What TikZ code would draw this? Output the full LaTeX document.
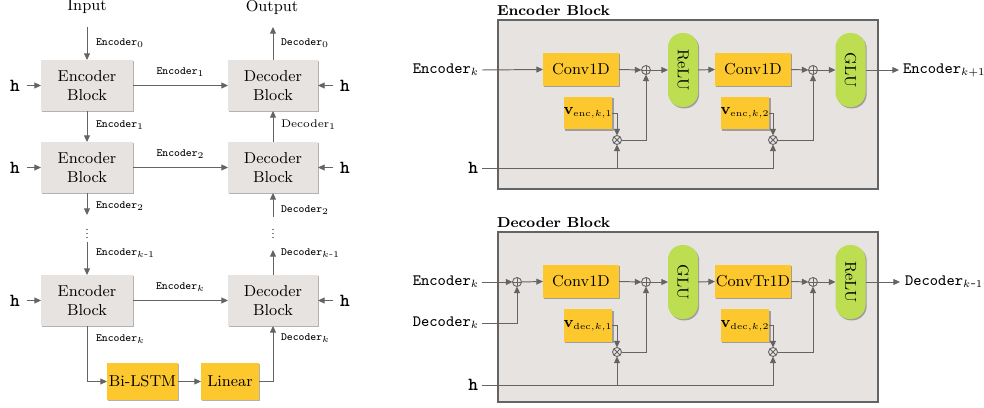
\documentclass[tikz,border=0pt]{standalone}
\usepackage{amsmath}
\usetikzlibrary{arrows.meta,shadows,calc}
\definecolor{blockgray}{RGB}{230,227,224}
\definecolor{boxgray}{RGB}{230,227,224}
\definecolor{ylw}{RGB}{253,200,45}
\definecolor{grn}{RGB}{190,222,82}
\definecolor{lnc}{RGB}{100,100,100}
\tikzset{
  x=0.02cm, y=-0.02cm,
  every node/.style={inner sep=0pt, outer sep=0pt},
  main/.style={font=\fontsize{9}{11}\selectfont},
  lbl/.style={font=\fontsize{6.3}{7}\selectfont\ttfamily, anchor=west},
  iolbl/.style={font=\fontsize{9}{11}\selectfont\ttfamily},
  shd/.style={drop shadow={shadow xshift=0.7pt, shadow yshift=-0.8pt, opacity=0.3, fill=black}},
  gblock/.style={main, fill=blockgray, align=center, minimum width=1.84cm, minimum height=1.02cm, shd},
  ybox/.style={main, fill=ylw, shd},
  vbox/.style={font=\fontsize{9.5}{11}\selectfont, fill=ylw, shd, minimum width=0.76cm, minimum height=0.65cm},
  gpill/.style={main, fill=grn, minimum width=0.6cm, minimum height=1.48cm, rounded corners=0.29cm, shd},
  arr/.style={draw=lnc, line width=0.55pt, -{Triangle[length=3.8pt,width=3.4pt]}},
  ln/.style={draw=lnc, line width=0.55pt},
  opl/.style={circle, draw=lnc, line width=0.5pt, minimum size=0.18cm,
    path picture={\draw[lnc, line width=0.5pt] (path picture bounding box.north) -- (path picture bounding box.south) (path picture bounding box.west) -- (path picture bounding box.east);}},
  otm/.style={circle, draw=lnc, line width=0.5pt, minimum size=0.18cm,
    path picture={\draw[lnc, line width=0.5pt] (path picture bounding box.north west) -- (path picture bounding box.south east) (path picture bounding box.south west) -- (path picture bounding box.north east);}},
  frame/.style={draw=lnc, line width=0.7pt, fill=boxgray},
  ttl/.style={font=\fontsize{8.2}{10}\selectfont\bfseries, anchor=base west},
  hl/.style={font=\fontsize{10.5}{12}\selectfont\ttfamily\bfseries},
}
\newcommand{\vlab}[2]{$\mathbf{v}_{\scriptscriptstyle\mathrm{#1},k,#2}$}
\begin{document}
\begin{tikzpicture}
\useasboundingbox (0,0) rectangle (984,408);
% ================= LEFT PANEL =================
\node[main] (input) at (87,7) {Input};
\node[main] (output) at (272,7) {Output};
\node[gblock] (e1) at (87,85.5) {Encoder\\Block};
\node[gblock, minimum width=1.8cm] (d1) at (273,85.5) {Decoder\\Block};
\node[gblock] (e2) at (87,167.5) {Encoder\\Block};
\node[gblock, minimum width=1.8cm] (d2) at (273,167.5) {Decoder\\Block};
\node[gblock] (e3) at (87,300.5) {Encoder\\Block};
\node[gblock, minimum width=1.8cm] (d3) at (273,300.5) {Decoder\\Block};
\node[ybox, minimum width=1.42cm, minimum height=0.74cm] (bl) at (142.5,381.5) {Bi-LSTM};
\node[ybox, minimum width=1.16cm, minimum height=0.74cm] (li) at (230,381.5) {Linear};
% h inputs
\foreach \r/\y in {1/85.5, 2/167.5, 3/300.5}{
  \node[hl] (hl\r) at (15,\y) {h};
  \node[hl] (hr\r) at (345,\y) {h};
}
\foreach \r in {1,2,3}{
  \draw[arr] ($(hl\r.east)+(7,0)$) -- (e\r.west);
  \draw[arr] ($(hr\r.west)+(-7,0)$) -- (d\r.east);
}
% vertical chain
\coordinate (in0) at (87,27);
\coordinate (out0) at (273,27);
\draw[arr] (in0) -- (e1.north);
\node[lbl] (lin0) at (96,43) {Encoder$_0$};
\draw[arr] (d1.north) -- (out0);
\node[lbl] (lout0) at (281,43) {Decoder$_0$};
\draw[arr] (e1.east) -- (d1.west) node[lbl, anchor=center, pos=0.5, yshift=0.27cm] (h1lab) {Encoder$_1$};
\draw[arr] (e2.east) -- (d2.west) node[lbl, anchor=center, pos=0.5, yshift=0.27cm] (h2lab) {Encoder$_2$};
\draw[arr] (e3.east) -- (d3.west) node[lbl, anchor=center, pos=0.5, yshift=0.27cm] (h3lab) {Encoder$_k$};
\draw[arr] (e1.south) -- (e2.north);
\node[lbl] (le1) at (96,125) {Encoder$_1$};
\draw[arr] (d2.north) -- (d1.south);
\node[lbl, font=\fontsize{6.3}{7}\selectfont\rmfamily] (ld1) at (281,125) {Decoder$_1$};
\coordinate (e2end) at (87,215);
\draw[arr] (e2.south) -- (e2end);
\node[lbl] (le2) at (96,206) {Encoder$_2$};
\coordinate (d2start) at (273,217);
\draw[arr] (d2start) -- (d2.south);
\node[lbl] (ld2) at (281,210) {Decoder$_2$};
% vertical dots
\foreach \yy in {229.5,233.5,237.5}{
  \fill[black] (87,\yy) circle (0.4pt);
  \fill[black] (273,\yy) circle (0.4pt);
}
\coordinate (e3start) at (87,242);
\draw[arr] (e3start) -- (e3.north);
\node[lbl] (lek1) at (96,253) {Encoder$_{k\text{-}1}$};
\coordinate (d3end) at (273,250);
\draw[arr] (d3.north) -- (d3end);
\node[lbl] (ldk1) at (281,253) {Decoder$_{k\text{-}1}$};
\draw[arr] (e3.south) |- (bl.west);
\node[lbl] (lek) at (96,339) {Encoder$_k$};
\draw[arr] (bl.east) -- (li.west);
\draw[arr] (li.east) -| (d3.south);
\node[lbl] (ldk) at (281,338) {Decoder$_k$};

% ================= ENCODER BLOCK (right top) =================
\node[frame, minimum width=7.6cm, minimum height=3.38cm, anchor=north west] (encframe) at (498,20) {};
\node[ttl] (enctitle) at (497,15.5) {Encoder Block};
\node[iolbl, anchor=east] (ein) at (479,70) {Encoder$_k$};
\node[hl, anchor=east] (eh) at (478,168) {h};
\node[ybox, minimum width=1.52cm, minimum height=0.66cm] (ec1) at (581,69.5) {Conv1D};
\node[opl] (eop1) at (646,70) {};
\node[gpill] (erelu) at (683,70) {\rotatebox{-90}{ReLU}};
\node[ybox, minimum width=1.52cm, minimum height=0.66cm] (ec2) at (753,69.5) {Conv1D};
\node[opl] (eop2) at (813,70) {};
\node[gpill] (eglu) at (850.5,70) {\rotatebox{-90}{GLU}};
\node[iolbl, anchor=west] (eout) at (903,70) {Encoder$_{k+1}$};
\node[vbox] (ev1) at (588,113) {\vlab{enc}{1}};
\node[otm] (eot1) at (617,140) {};
\node[vbox] (ev2) at (745,113) {\vlab{enc}{2}};
\node[otm] (eot2) at (773,140) {};
\draw[arr] ($(ein.east)+(3,0)$) -- (ec1.west);
\draw[arr] (ec1.east) -- (eop1.west);
\draw[arr] (eop1.east) -- (erelu.west);
\draw[arr] (erelu.east) -- (ec2.west);
\draw[arr] (ec2.east) -- (eop2.west);
\draw[arr] (eop2.east) -- (eglu.west);
\draw[arr] (eglu.east) -- ($(eout.west)+(-4,0)$);
\draw[arr] (ev1.east) -| (eot1.north);
\draw[arr] (ev2.east) -| (eot2.north);
\draw[arr] (eot1.east) -| (eop1.south);
\draw[arr] (eot2.east) -| (eop2.south);
\draw[arr] ($(eh.east)+(4,0)$) -| (eot2.south);
\draw[arr] (eot1 |- eh) -- (eot1.south);

% ================= DECODER BLOCK (right bottom) =================
\node[frame, minimum width=7.6cm, minimum height=3.4cm, anchor=north west] (decframe) at (498,232) {};
\node[ttl] (dectitle) at (497,227.5) {Decoder Block};
\node[iolbl, anchor=east] (dein) at (479,282) {Encoder$_k$};
\node[iolbl, anchor=east] (ddin) at (479,323) {Decoder$_k$};
\node[hl, anchor=east] (dh) at (478,385) {h};
\node[opl] (dop0) at (517,282) {};
\node[ybox, minimum width=1.52cm, minimum height=0.66cm] (dc1) at (581,281.5) {Conv1D};
\node[opl] (dop1) at (646,282) {};
\node[gpill] (dglu) at (683,282) {\rotatebox{-90}{GLU}};
\node[ybox, minimum width=1.52cm, minimum height=0.66cm] (dc2) at (753,281.5) {ConvTr1D};
\node[opl] (dop2) at (813,282) {};
\node[gpill] (drelu) at (850.5,282) {\rotatebox{-90}{ReLU}};
\node[iolbl, anchor=west] (dout) at (905,282) {Decoder$_{k\text{-}1}$};
\node[vbox] (dv1) at (588,325.5) {\vlab{dec}{1}};
\node[otm] (dot1) at (617,352) {};
\node[vbox] (dv2) at (745,325.5) {\vlab{dec}{2}};
\node[otm] (dot2) at (773,352) {};
\draw[arr] ($(dein.east)+(3,0)$) -- (dop0.west);
\draw[arr] ($(ddin.east)+(3,0)$) -| (dop0.south);
\draw[arr] (dop0.east) -- (dc1.west);
\draw[arr] (dc1.east) -- (dop1.west);
\draw[arr] (dop1.east) -- (dglu.west);
\draw[arr] (dglu.east) -- (dc2.west);
\draw[arr] (dc2.east) -- (dop2.west);
\draw[arr] (dop2.east) -- (drelu.west);
\draw[arr] (drelu.east) -- ($(dout.west)+(-5,0)$);
\draw[arr] (dv1.east) -| (dot1.north);
\draw[arr] (dv2.east) -| (dot2.north);
\draw[arr] (dot1.east) -| (dop1.south);
\draw[arr] (dot2.east) -| (dop2.south);
\draw[arr] ($(dh.east)+(4,0)$) -| (dot2.south);
\draw[arr] (dot1 |- dh) -- (dot1.south);
\end{tikzpicture}
\end{document}
